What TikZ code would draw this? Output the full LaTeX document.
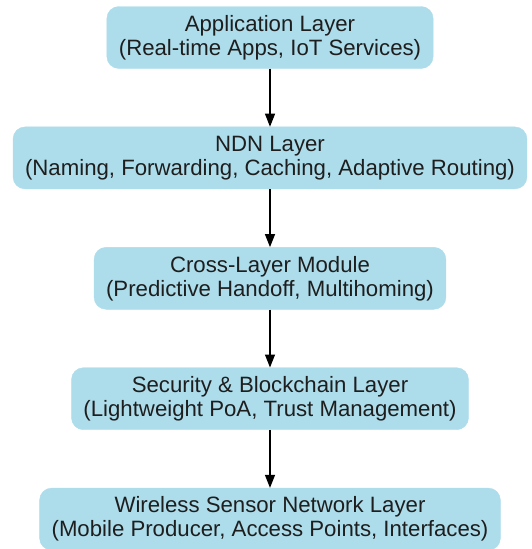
\documentclass[tikz,border=0pt]{standalone}
\usepackage{fontspec}
\setmainfont{Liberation Sans}
\usepackage{tikz}
\usetikzlibrary{
    arrows.meta,
    positioning
}
\definecolor{nsLightBlue}{HTML}{ADDCEB}
\definecolor{nsText}{HTML}{1E1E1E}
\tikzset{
    nsLayer/.style={
        draw=nsLightBlue,
        fill=nsLightBlue,
        rounded corners=12pt,
        minimum height=62pt,
        inner xsep=12pt,
        align=center,
        text=nsText,
        font=\fontsize{22.2}{24}\selectfont
    },
    nsArrow/.style={-{Triangle[length=13pt,width=10pt]},line width=1.2pt,draw=black}
}

\begin{document}
\begin{tikzpicture}[node distance=58pt]
        \useasboundingbox (0,0) rectangle (532pt,-549pt);

        % layer stack
        \node[nsLayer] (app) at (270pt,-37.5pt)
            {Application Layer\\(Real-time Apps, IoT Services)};
        \node[nsLayer,below=of app] (ndn)
            {NDN Layer\\(Naming, Forwarding, Caching, Adaptive Routing)};
        \node[nsLayer,below=of ndn] (cross)
            {Cross-Layer Module\\(Predictive Handoff, Multihoming)};
        \node[nsLayer,below=of cross] (sec)
            {Security \& Blockchain Layer\\(Lightweight PoA, Trust Management)};
        \node[nsLayer,below=of sec] (wsn)
            {Wireless Sensor Network Layer\\(Mobile Producer, Access Points, Interfaces)};

        % arrows
        \draw[nsArrow] (app) -- (ndn);
        \draw[nsArrow] (ndn) -- (cross);
        \draw[nsArrow] (cross) -- (sec);
        \draw[nsArrow] (sec) -- (wsn);
    \end{tikzpicture}
\end{document}
